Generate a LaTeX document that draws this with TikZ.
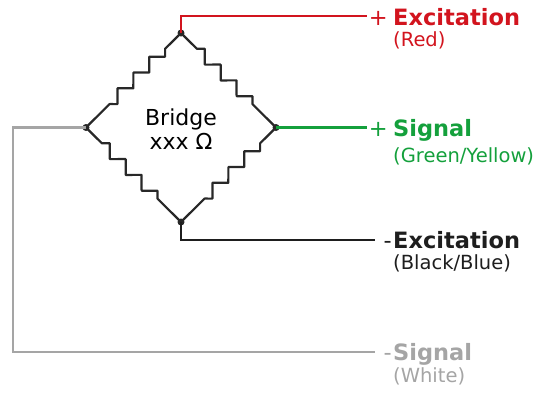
\documentclass[tikz,border=0pt]{standalone}
\usepackage{fontspec}
\setmainfont{DejaVu Sans}
\usetikzlibrary{decorations.pathmorphing}
\definecolor{cred}{RGB}{210,20,30}
\definecolor{cgreen}{RGB}{20,160,60}
\definecolor{cblack}{RGB}{30,30,30}
\definecolor{cgray}{RGB}{165,165,165}
\definecolor{cwire}{RGB}{40,40,40}
\tikzset{
  resistor/.style={draw=cwire, line width=2.2pt, line join=round, decorate,
    decoration={zigzag, segment length=22.4pt, amplitude=5.6pt, pre length=22.4pt, post length=22.4pt}},
  wire/.style={line width=2.4pt},
  junction/.style={circle, fill=cwire, inner sep=0pt, minimum size=7pt},
  biglabel/.style={inner sep=0pt, anchor=base west, font=\fontsize{22.5}{27}\selectfont\bfseries},
  signlabel/.style={inner sep=0pt, anchor=base east, font=\fontsize{22.5}{27}\selectfont},
  smalllabel/.style={inner sep=0pt, anchor=base west, font=\fontsize{19.5}{23}\selectfont},
  bridgelabel/.style={inner sep=0pt, anchor=base, font=\fontsize{22}{26}\selectfont}
}
\begin{document}
\begin{tikzpicture}[x=1pt, y=-1pt]
\useasboundingbox (0,0) rectangle (539,392);
% bridge vertices
\node[junction] (top) at (181,33) {};
\node[junction] (bot) at (181,222) {};
\node[junction] (lft) at (86,127.5) {};
\node[junction] (rgt) at (276,127.5) {};
% resistors
\path[resistor] (top.center) -- (lft.center);
\path[resistor] (top.center) -- (rgt.center);
\path[resistor] (lft.center) -- (bot.center);
\path[resistor] (rgt.center) -- (bot.center);
% texts in bridge
\node[bridgelabel] (br) at (181,125) {Bridge};
\node[bridgelabel] (xx) at (181,149) {xxx Ω};
% wire end coordinates
\coordinate (redend) at (367,16);
\coordinate (greenend) at (367,127.5);
\coordinate (blackend) at (375,240);
\coordinate (grayend) at (375,352);
% wires
\draw[wire, cred] (top.center) |- (redend);
\draw[wire, cgreen] (rgt.center) -- (greenend);
\draw[wire, cblack] (bot.center) |- (blackend);
\draw[wire, cgray] (lft.center) -- (13,127.5) |- (grayend);
% labels
\node[signlabel, text=cred] (p1) at (388,25) {+};
\node[biglabel, text=cred] (l1) at (393,25) {Excitation};
\node[smalllabel, text=cred] (s1) at (393,46) {(Red)};
\node[signlabel, text=cgreen] (p2) at (388,136) {+};
\node[biglabel, text=cgreen] (l2) at (393,136) {Signal};
\node[smalllabel, text=cgreen] (s2) at (393,162) {(Green/Yellow)};
\node[signlabel, text=cblack] (p3) at (392,248) {-};
\node[biglabel, text=cblack] (l3) at (393,248) {Excitation};
\node[smalllabel, text=cblack] (s3) at (393,269) {(Black/Blue)};
\node[signlabel, text=cgray] (p4) at (392,360) {-};
\node[biglabel, text=cgray] (l4) at (393,360) {Signal};
\node[smalllabel, text=cgray] (s4) at (393,382) {(White)};
\end{tikzpicture}
\end{document}
